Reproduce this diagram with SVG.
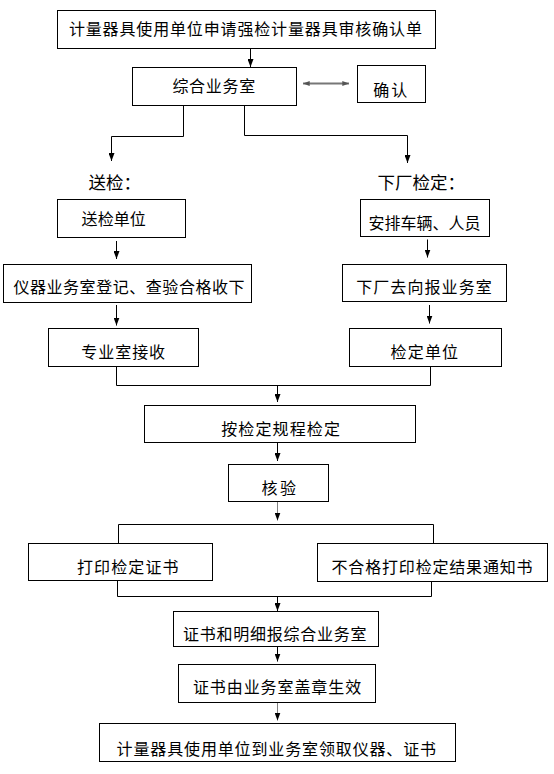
<svg xmlns="http://www.w3.org/2000/svg" width="554" height="774" viewBox="0 0 554 774">
<style>
.box rect{fill:#fff;stroke:#000;stroke-width:1}
text{font-family:"Noto Sans CJK SC","Noto Sans CJK JP",sans-serif;font-size:16px;fill:#000}
.title{font-size:17.5px}
.c{fill:none;stroke:#000;stroke-width:1}
.g{stroke:#808080}
.a{marker-end:url(#ah)}
</style>
<defs>
<marker id="ah" viewBox="0 0 8 6" refX="8" refY="3" markerWidth="8" markerHeight="6" markerUnits="userSpaceOnUse" orient="auto">
<path d="M0,0 L8,3 L0,6 z" fill="#000"/>
</marker>
<marker id="ahg" viewBox="0 0 8 6" refX="8" refY="3" markerWidth="7" markerHeight="5" markerUnits="userSpaceOnUse" orient="auto-start-reverse">
<path d="M0,0 L8,3 L0,6 z" fill="#555"/>
</marker>
</defs>
<g id="connectors">
<path class="c a" d="M250.5,48.5 V67"/>
<path class="c" d="M303,83.5 H349" style="stroke:#777;stroke-width:2;marker-start:url(#ahg);marker-end:url(#ahg)"/>
<path class="c a" d="M183.5,105.5 V136.5 H111.5 V161"/>
<path class="c a" d="M244.5,105.5 V135.5 H407.5 V163"/>
<path class="c a" d="M116.5,241 V259"/>
<path class="c a" d="M116.5,305 V325.5"/>
<path class="c a" d="M427.5,239.5 V257.5"/>
<path class="c a" d="M429.5,305 V323.5"/>
<path class="c" d="M116.5,366.5 V385.5 H430.5 V366.5"/>
<path class="c a" d="M277.5,385.5 V402"/>
<path class="c a" d="M277.5,442.5 V461"/>
<path class="c g a" d="M277.5,501.5 V520.5"/>
<path class="c" d="M118.5,543.5 V524.5 H433.5 V543.5"/>
<path class="c" d="M117.5,580.5 V596.5 H431.5 V581.5"/>
<path class="c a" d="M277.5,596.5 V611"/>
<path class="c a" d="M277.5,646.5 V661.5"/>
<path class="c g a" d="M277.5,702.5 V720.5"/>
</g>
<g id="n1" class="box"><rect x="57.5" y="10.5" width="378" height="38"/><text x="68.9" y="34.5" textLength="353" lengthAdjust="spacing">计量器具使用单位申请强检计量器具审核确认单</text></g>
<g id="n2" class="box"><rect x="132.5" y="67.5" width="164" height="38"/><text x="172.4" y="91.5" textLength="82.8" lengthAdjust="spacing">综合业务室</text></g>
<g id="n3" class="box"><rect x="357.5" y="65.5" width="68" height="37"/><text x="373.2" y="96" textLength="34" lengthAdjust="spacing">确认</text></g>
<g id="t1"><text class="title" x="88.6" y="188.5">送检：</text></g>
<g id="t2"><text class="title" x="377.6" y="188.5">下厂检定：</text></g>
<g id="n4" class="box"><rect x="57.5" y="199.5" width="128" height="38"/><text x="81.6" y="224.5" textLength="64.1" lengthAdjust="spacing">送检单位</text></g>
<g id="n5" class="box"><rect x="360.5" y="199.5" width="129" height="37"/><text x="368.6" y="228.5" textLength="112" lengthAdjust="spacing">安排车辆、人员</text></g>
<g id="n6" class="box"><rect x="3.5" y="264.5" width="248" height="38"/><text x="13.4" y="292.5" textLength="231.2" lengthAdjust="spacing">仪器业务室登记、查验合格收下</text></g>
<g id="n7" class="box"><rect x="342.5" y="264.5" width="164" height="37"/><text x="356.2" y="292.5" textLength="135.6" lengthAdjust="spacing">下厂去向报业务室</text></g>
<g id="n8" class="box"><rect x="48.5" y="328.5" width="150" height="38"/><text x="81.3" y="357.5" textLength="83.8" lengthAdjust="spacing">专业室接收</text></g>
<g id="n9" class="box"><rect x="349.5" y="328.5" width="152" height="38"/><text x="390.5" y="357.5" textLength="67.6" lengthAdjust="spacing">检定单位</text></g>
<g id="n10" class="box"><rect x="144.5" y="405.5" width="271" height="37"/><text x="221.2" y="434.5" textLength="118.8" lengthAdjust="spacing">按检定规程检定</text></g>
<g id="n11" class="box"><rect x="228.5" y="464.5" width="100" height="37"/><text x="261.5" y="493.5" textLength="34.4" lengthAdjust="spacing">核验</text></g>
<g id="n12" class="box"><rect x="28.5" y="543.5" width="184" height="37"/><text x="77" y="572.5" textLength="101.5" lengthAdjust="spacing">打印检定证书</text></g>
<g id="n13" class="box"><rect x="317.5" y="543.5" width="230" height="38"/><text x="331.5" y="572.5" textLength="201.1" lengthAdjust="spacing">不合格打印检定结果通知书</text></g>
<g id="n14" class="box"><rect x="173.5" y="611.5" width="205" height="35"/><text x="183" y="639.5" textLength="183.5" lengthAdjust="spacing">证书和明细报综合业务室</text></g>
<g id="n15" class="box"><rect x="178.5" y="664.5" width="197" height="38"/><text x="192.9" y="692.5" textLength="168.3" lengthAdjust="spacing">证书由业务室盖章生效</text></g>
<g id="n16" class="box"><rect x="99.5" y="723.5" width="356" height="38"/><text x="116.6" y="754.5" textLength="319.5" lengthAdjust="spacing">计量器具使用单位到业务室领取仪器、证书</text></g>
</svg>
